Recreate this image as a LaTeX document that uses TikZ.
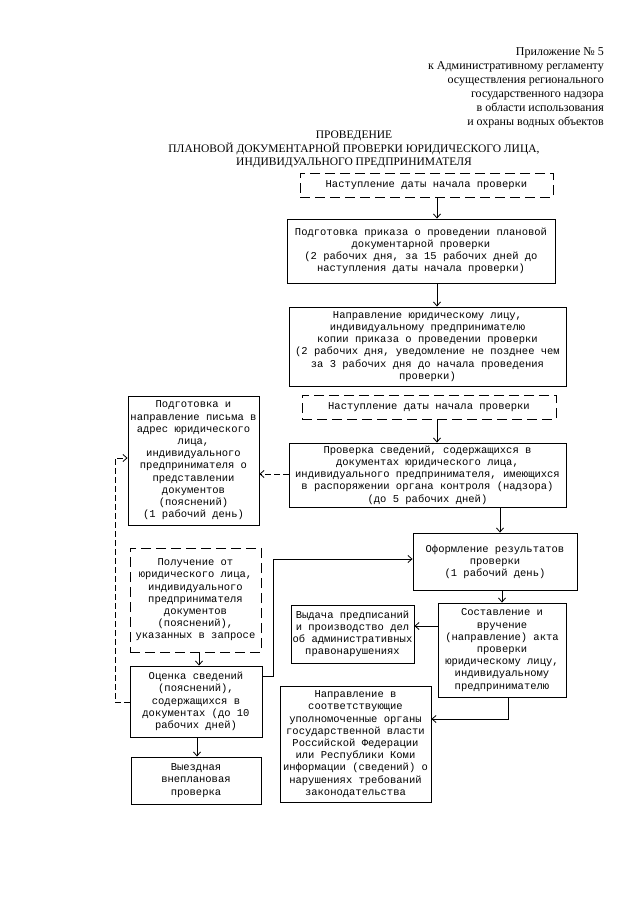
\documentclass[tikz,border=0pt]{standalone}
\usepackage{fontspec}
\setmainfont{Liberation Serif}
\newfontfamily\boxfont{Liberation Mono}
\usetikzlibrary{arrows.meta}
\begin{document}
\begin{tikzpicture}[x=1pt,y=-1pt,
  box/.style={draw, line width=0.9pt, align=center, inner sep=1pt,
    font=\boxfont\fontsize{10.5}{12.2}\selectfont},
  dbox/.style={box, dash pattern=on 10pt off 5pt},
  arr/.style={line width=0.8pt, -{Straight Barb[length=4pt,width=7pt]}},
  darr/.style={arr, dash pattern=on 6pt off 3pt},
  hdr/.style={inner sep=0pt, font=\fontsize{12}{14}\selectfont},
]
\fill[white] (0,0) rectangle (640,905);
\useasboundingbox (0,0) rectangle (640,905);

\node[hdr, anchor=north east, align=right] (head) at (604,47)
  {Приложение № 5\\к Административному регламенту\\осуществления регионального\\государственного надзора\\в области использования\\и охраны водных объектов};
\node[hdr, anchor=north, align=center, font=\fontsize{11.5}{13.5}\selectfont] (title) at (354,131)
  {ПРОВЕДЕНИЕ\\ПЛАНОВОЙ ДОКУМЕНТАРНОЙ ПРОВЕРКИ ЮРИДИЧЕСКОГО ЛИЦА,\\ИНДИВИДУАЛЬНОГО ПРЕДПРИНИМАТЕЛЯ};

% right column
\node[dbox, minimum width=253, minimum height=24] (d1) at (426.5,185)
  {Наступление даты начала проверки};
\node[box, minimum width=268, minimum height=64] (b2) at (421,251)
  {Подготовка приказа о проведении плановой\\документарной проверки\\(2 рабочих дня, за 15 рабочих дней до\\наступления даты начала проверки)};
\node[box, minimum width=277, minimum height=79] (b3) at (427.5,346.5)
  {Направление юридическому лицу,\\индивидуальному предпринимателю\\копии приказа о проведении проверки\\(2 рабочих дня, уведомление не позднее чем\\за 3 рабочих дня до начала проведения\\проверки)};
\node[dbox, minimum width=254, minimum height=24] (d4) at (429,407)
  {Наступление даты начала проверки};
\node[box, minimum width=277, minimum height=64] (b5) at (427.5,475)
  {Проверка сведений, содержащихся в\\документах юридического лица,\\индивидуального предпринимателя, имеющихся\\в распоряжении органа контроля (надзора)\\(до 5 рабочих дней)};
\node[box, minimum width=164, minimum height=57] (b6) at (495,561.5)
  {Оформление результатов\\проверки\\(1 рабочий день)};
\node[box, minimum width=123, minimum height=58] (b7) at (352.5,634)
  {Выдача предписаний\\и производство дел\\об административных\\правонарушениях};
\node[box, minimum width=128, minimum height=94] (b8) at (502,650)
  {Составление и\\вручение\\(направление) акта\\проверки\\юридическому лицу,\\индивидуальному\\предпринимателю};
\node[box, minimum width=151, minimum height=116] (b9) at (355.5,744)
  {Направление в\\соответствующие\\уполномоченные органы\\государственной власти\\Российской Федерации\\или Республики Коми\\информации (сведений) о\\нарушениях требований\\законодательства};

% left column
\node[box, minimum width=131, minimum height=129] (b10) at (193.5,460.5)
  {Подготовка и\\направление письма в\\адрес юридического\\лица,\\индивидуального\\предпринимателя о\\представлении\\документов\\(пояснений)\\(1 рабочий день)};
\node[dbox, minimum width=131, minimum height=104] (d11) at (195.5,600)
  {Получение от\\юридического лица,\\индивидуального\\предпринимателя\\документов\\(пояснений),\\указанных в запросе};
\node[box, minimum width=132, minimum height=71] (b12) at (196,701.5)
  {Оценка сведений\\(пояснений),\\содержащихся в\\документах (до 10\\рабочих дней)};
\node[box, minimum width=130, minimum height=47] (b13) at (196,780.5)
  {Выездная\\внеплановая\\проверка};

% helper coordinates
\coordinate (x437) at (437,0);
\coordinate (x500) at (500,0);
\coordinate (x502) at (502,0);
\coordinate (x508) at (508,0);
\coordinate (x199) at (199,0);
\coordinate (x197) at (197,0);
\coordinate (x115) at (115,0);
\coordinate (x273) at (273,0);
\coordinate (y719) at (0,719);
\coordinate (y626) at (0,626);
\coordinate (y474) at (0,474);
\coordinate (y702) at (0,702);
\coordinate (y458) at (0,458);
\coordinate (y676) at (0,676);
\coordinate (y559) at (0,559);

% connectors
\draw[arr] (x437 |- d1.south) -- (x437 |- b2.north);
\draw[arr] (x437 |- b2.south) -- (x437 |- b3.north);
\draw[arr] (x437 |- d4.south) -- (x437 |- b5.north);
\draw[arr] (x500 |- b5.south) -- (x500 |- b6.north);
\draw[arr] (x502 |- b6.south) -- (x502 |- b8.north);
\draw[arr] (b8.west |- y626) -- (b7.east |- y626);
\draw[arr] (x508 |- b8.south) |- (b9.east |- y719);
\draw[darr] (b5.west |- y474) -- (b10.east |- y474);
\draw[darr] (b12.west |- y702) -- (x115 |- y702) -- (x115 |- y458) -- (b10.west |- y458);
\draw[arr] (b12.east |- y676) -- (x273 |- y676) -- (x273 |- y559) -- (b6.west |- y559);
\draw[arr] (x199 |- d11.south) -- (x199 |- b12.north);
\draw[arr] (x197 |- b12.south) -- (x197 |- b13.north);
\end{tikzpicture}
\end{document}
